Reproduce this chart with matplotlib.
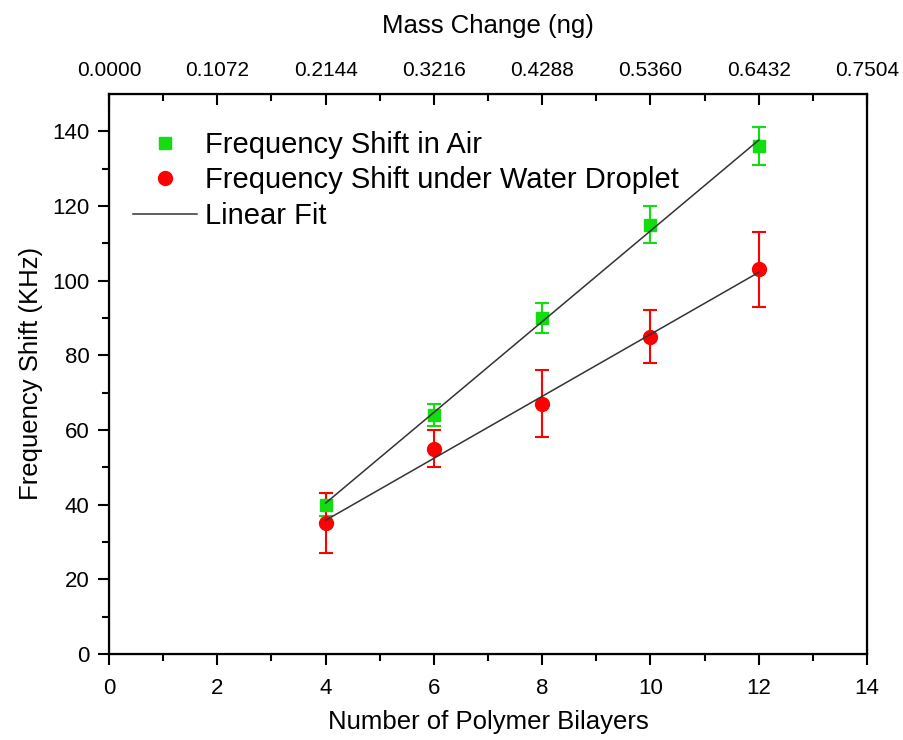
import numpy as np
import matplotlib
matplotlib.use("Agg")
from matplotlib import pyplot as plt
from matplotlib.lines import Line2D
from matplotlib.ticker import MultipleLocator, FixedLocator

plt.rcParams['font.family'] = ['Liberation Sans', 'DejaVu Sans']

# data
bilayers = [4, 6, 8, 10, 12]
shift_air = [40, 64, 90, 115, 136]
err_air = [3, 3, 4, 5, 5]
shift_water = [35, 55, 67, 85, 103]
err_water = [8, 5, 9, 7, 10]
mass_per_bilayer = 0.0536  # ng, top axis scale

green = '#11dd11'
red = '#ff0000'
fitc = '#333333'

fig = plt.figure(figsize=(9.04, 7.4), dpi=100)
ax = fig.add_axes([0.1206, 0.1162, 0.8385, 0.757])

ax.errorbar(bilayers, shift_air, yerr=err_air, fmt='s', color=green, ms=8.5,
            ecolor=green, elinewidth=1.5, capsize=5, capthick=1.5, zorder=3)
ax.errorbar(bilayers, shift_water, yerr=err_water, fmt='o', color=red, ms=10,
            ecolor=red, elinewidth=1.5, capsize=5, capthick=1.5, zorder=3)

# linear fits
xs = np.array([bilayers[0], bilayers[-1]])
p_air = np.polyfit(bilayers, shift_air, 1)
p_water = np.polyfit(bilayers, shift_water, 1)
ax.plot(xs, np.polyval(p_air, xs), color=fitc, lw=1.1, zorder=4)
ax.plot(xs, np.polyval(p_water, xs), color=fitc, lw=1.1, zorder=4)

ax.set_xlim(0, 14)
ax.set_ylim(0, 150)
ax.xaxis.set_major_locator(MultipleLocator(2))
ax.xaxis.set_minor_locator(MultipleLocator(1))
ax.yaxis.set_major_locator(FixedLocator(np.arange(0, 141, 20)))
ax.yaxis.set_minor_locator(FixedLocator(np.arange(10, 141, 20)))
ax.tick_params(which='major', direction='out', length=8, width=1.5, labelsize=16, pad=6)
ax.tick_params(axis='x', which='major', pad=9)
ax.tick_params(which='minor', direction='out', length=5, width=1.5)
for s in ax.spines.values():
    s.set_linewidth(1.6)

ax.set_xlabel('Number of Polymer Bilayers', fontsize=18.5, labelpad=8)
ax.set_ylabel('Frequency Shift (KHz)', fontsize=18.5, labelpad=7)

# top axis with mass change
top = ax.twiny()
top.set_xlim(0, 14)
top.xaxis.set_major_locator(MultipleLocator(2))
top.xaxis.set_minor_locator(MultipleLocator(1))
top.set_xticklabels(['%.4f' % (t * mass_per_bilayer) for t in top.get_xticks()])
top.tick_params(which='major', direction='in', length=8, width=1.5, labelsize=15, pad=10)
top.tick_params(which='minor', direction='in', length=5, width=1.5)
top.set_xlabel('Mass Change (ng)', fontsize=18.5, labelpad=20)

handles = [
    Line2D([], [], ls='none', marker='s', color=green, ms=8.5),
    Line2D([], [], ls='none', marker='o', color=red, ms=10),
    Line2D([], [], color=fitc, lw=1.1),
]
labels = ['Frequency Shift in Air', 'Frequency Shift under Water Droplet', 'Linear Fit']
ax.legend(handles, labels, loc='upper left', bbox_to_anchor=(0.032, 0.934),
          frameon=False, fontsize=21, handlelength=2.2, handletextpad=0.26,
          labelspacing=0.26, borderaxespad=0, borderpad=0)

fig.savefig('out.png', dpi=100)
